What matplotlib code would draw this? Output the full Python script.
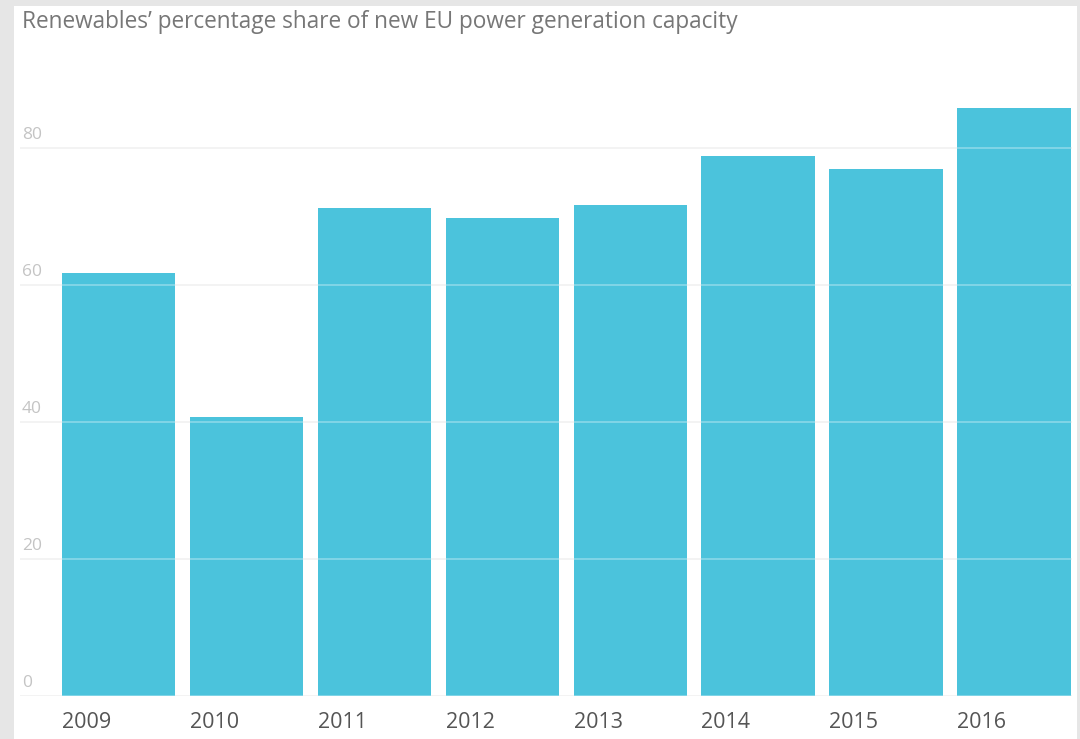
import matplotlib.pyplot as plt
from matplotlib.patches import Rectangle
import matplotlib.transforms as mtransforms

years = ["2009", "2010", "2011", "2012", "2013", "2014", "2015", "2016"]
share = [61.8, 40.8, 71.3, 69.8, 71.7, 78.9, 76.9, 85.8]
yticks = [0, 20, 40, 60, 80]

title = "Renewables\u2019 percentage share of new EU power generation capacity"

W, H = 1080, 739
fig = plt.figure(figsize=(W / 100, H / 100), dpi=100)
fig.patch.set_facecolor("#e6e6e6")

# white card
fig.patches.append(Rectangle((14 / W, 0), (1077 - 14) / W, (H - 6) / H,
                             transform=fig.transFigure, facecolor="white",
                             edgecolor="none", zorder=0))

ax = fig.add_axes([20 / W, (H - 696) / H, (1072 - 20) / W, (696 - 79.5) / H])
ax.set_facecolor("none")
ax.set_zorder(1)

x = list(range(len(years)))
ax.bar(x, share, width=0.89, color="#4bc3dc", zorder=2)

ax.set_xlim(-0.77, 7.45)
ax.set_ylim(0, 90)
for s in ax.spines.values():
    s.set_visible(False)
ax.set_xticks([])
ax.set_yticks([])

# gridlines: faint grey on white, lighter streak across the bars
for t in yticks:
    ax.axhline(t, color="#ececec", lw=1.2, zorder=1)
    ax.axhline(t, color="white", lw=1.4, alpha=0.3, zorder=3)

font = "Open Sans"

# y tick labels sit above their gridlines
off_y = mtransforms.offset_copy(ax.get_yaxis_transform(), fig=fig, x=2, y=5, units="dots")
for t in yticks:
    ax.text(0, t, str(t), transform=off_y, ha="left", va="bottom",
            fontsize=12.5, color="#c4c4c4", family=font)

# x labels left-aligned under each bar
off_x = mtransforms.offset_copy(ax.get_xaxis_transform(), fig=fig, x=0, y=-26, units="dots")
for i, yr in enumerate(years):
    ax.text(i - 0.445, 0, yr, transform=off_x, ha="left", va="center",
            fontsize=15.5, color="#555555", family=font)

fig.text(22 / W, 1 - 22 / H, title, ha="left", va="center",
         fontsize=16.3, color="#777777", family=font)

fig.savefig("out.png", dpi=100, facecolor=fig.get_facecolor())
